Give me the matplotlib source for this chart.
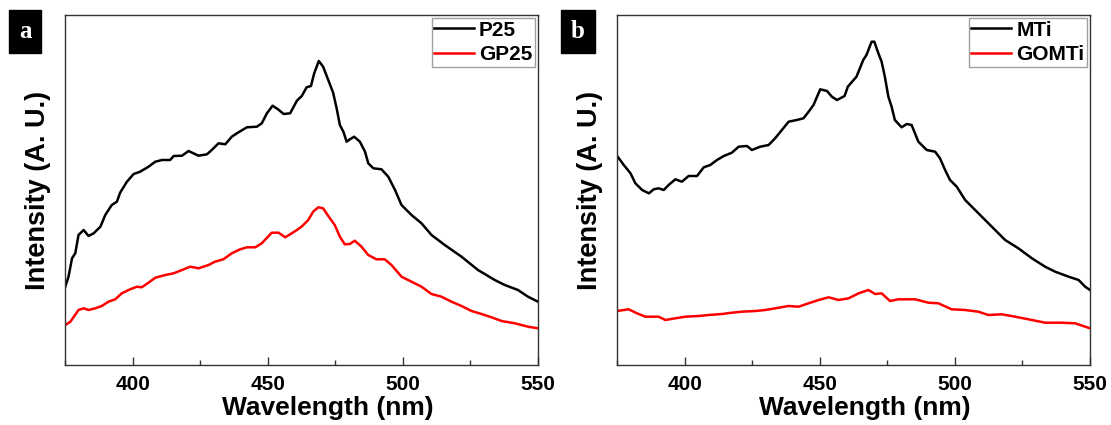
import numpy as np
import matplotlib
matplotlib.use('Agg')
import matplotlib.pyplot as plt
from matplotlib.ticker import MultipleLocator

plt.rcParams.update({
    'font.family': ['Liberation Sans', 'DejaVu Sans'],
    'font.weight': 'bold',
})

# panel a: P25 / GP25
wl_p25 = [375.1, 376.3, 377.6, 378.8, 380.0, 381.9, 383.7, 385.6, 388.1, 389.9, 392.3, 394.2,
          395.4, 397.9, 400.4, 402.8, 405.9, 408.4, 410.9, 413.9, 415.2, 418.3, 420.7, 424.4,
          427.5, 429.3, 431.8, 434.3, 436.7, 438.6, 442.3, 446.0, 447.8, 449.7, 451.8, 453.8,
          455.9, 458.3, 460.8, 462.6, 464.4, 466.0, 467.2, 468.9, 470.5, 472.4, 474.2, 475.5,
          476.7, 478.0, 479.2, 480.4, 482.0, 484.1, 486.0, 487.2, 489.1, 492.1, 494.6, 497.1,
          499.5, 503.2, 506.9, 510.6, 515.5, 521.7, 527.8, 534.0, 537.7, 542.6, 546.3, 550.0]
i_p25 = [78.3, 88.3, 106.7, 111.7, 130, 135, 129, 131.7, 138.3, 150, 160, 163.3,
         172.3, 183.3, 191, 193.3, 198.3, 203.3, 205, 205, 209, 209.3, 214, 209.3,
         210.7, 215, 221.7, 220.7, 228.3, 231.7, 237.7, 238.3, 241.7, 251.7, 259.3, 255.7,
         251, 251.7, 264.3, 269, 277.7, 279, 291.7, 304, 298.3, 285, 272.3, 256.7,
         240, 233.3, 223.3, 225.7, 228.3, 223.3, 213.3, 201.7, 196.7, 195.7, 188.3, 175,
         160, 150, 141.7, 130, 120, 108.3, 95, 85, 80, 75, 68.3, 63.3]

wl_gp25 = [375.1, 377.0, 380.0, 381.9, 383.7, 386.2, 388.6, 391.1, 393.6, 396.0, 399.1, 401.6,
           403.4, 405.9, 408.4, 412.1, 415.2, 418.3, 421.3, 424.4, 428.1, 430.5, 433.6, 436.7,
           439.8, 442.3, 445.4, 447.8, 451.5, 454.0, 456.5, 458.3, 460.8, 462.5, 465.0, 466.8,
           468.7, 470.5, 472.4, 474.8, 476.7, 478.5, 480.4, 482.2, 484.7, 487.2, 490.2, 493.3,
           495.8, 499.5, 503.2, 506.9, 510.6, 514.3, 518.0, 521.7, 525.4, 529.1, 532.8, 536.5,
           541.4, 546.3, 550.0]
i_gp25 = [40, 43.3, 55, 56.7, 55, 56.7, 59, 63.3, 65.7, 71.7, 75.7, 78.3,
          77.7, 82.3, 87.3, 90, 91.7, 95, 98.3, 96.7, 100, 103.3, 105.7, 111.7,
          115.7, 117.7, 117.7, 121.7, 132.3, 132.3, 127.7, 130.7, 135, 138.3, 145, 153.3,
          157.7, 156.7, 149, 140, 128.3, 120.7, 121, 124.3, 118.3, 110, 105.7, 105.7,
          100, 88.3, 83.3, 78.3, 71, 68.3, 63.3, 59, 54, 51, 47.7, 44,
          41.7, 38.3, 36.7]

# panel b: MTi / GOMTi
wl_mti = [375.0, 377.5, 380.0, 381.8, 384.3, 386.8, 388.6, 390.4, 392.3, 394.1, 396.6, 399.0,
          401.5, 404.6, 407.1, 409.5, 412.0, 414.5, 417.5, 420.0, 423.1, 424.9, 428.0, 431.1,
          433.5, 436.0, 438.5, 441.5, 444.0, 445.9, 447.7, 450.2, 452.7, 454.5, 456.4, 459.2,
          460.4, 463.6, 466.1, 467.3, 469.2, 470.2, 471.7, 472.9, 474.1, 475.4, 476.6, 477.8,
          480.3, 482.2, 484.0, 486.5, 489.6, 492.7, 494.5, 496.4, 498.2, 500.7, 503.8, 507.5,
          511.2, 514.9, 518.6, 523.5, 528.5, 533.4, 537.1, 542.1, 545.8, 548.2, 550.0]
i_mti = [209.3, 200, 191.7, 181.7, 175, 171.7, 175.7, 176.7, 175, 180, 185.7, 183.3,
         189, 189, 197.7, 200, 205, 209, 212.3, 218.3, 219, 215, 218.3, 220,
         226.7, 235, 243.3, 245, 246.7, 253.3, 260, 275.7, 274, 268.3, 265, 269,
         278.3, 288.3, 305, 310, 323.3, 323.3, 311.7, 303.3, 288.3, 268.3, 258.3, 245,
         237.7, 241, 240, 223.3, 215, 213.3, 206.7, 195, 185, 178.3, 165, 155,
         145, 135, 125, 116.7, 106.7, 98.3, 93.3, 88.3, 85, 78.3, 75]

wl_gomti = [375.0, 379.3, 382.4, 385.5, 390.4, 392.9, 396.6, 400.3, 405.2, 408.9, 413.8, 417.5,
            421.2, 426.2, 429.9, 433.5, 438.5, 442.2, 445.9, 449.6, 453.3, 457.0, 460.7, 464.4,
            468.0, 470.5, 472.9, 476.0, 479.1, 485.3, 490.2, 493.9, 498.8, 503.8, 508.7, 512.4,
            517.3, 522.3, 527.2, 533.4, 539.5, 544.5, 550.0]
i_gomti = [54, 55.7, 51.7, 48.3, 48.3, 45, 46.7, 48.3, 49, 50, 51, 52.3,
           53.3, 54, 55, 56.7, 59, 58.3, 61.7, 65, 67.7, 65, 66.7, 71.7,
           75, 71, 71.7, 64, 65.7, 65.7, 62.3, 61.7, 55.7, 55, 53.3, 50,
           50.7, 48.3, 45.7, 42.3, 42.3, 41.7, 36.7]

panels = [
    ('a', (wl_p25, i_p25, 'P25'), (wl_gp25, i_gp25, 'GP25')),
    ('b', (wl_mti, i_mti, 'MTi'), (wl_gomti, i_gomti, 'GOMTi')),
]

fig = plt.figure(figsize=(11.11, 4.25), dpi=100)
lefts = [65 / 1111, 617 / 1111]
xlab_x = [0.555, 0.523]
tag_x = [25 / 1111, 578 / 1111]
for k, (tag, s1, s2) in enumerate(panels):
    ax = fig.add_axes([lefts[k], 60 / 425, 473 / 1111, 350 / 425])
    ax.plot(s1[0], s1[1], color='black', lw=1.8, label=s1[2])
    ax.plot(s2[0], s2[1], color='#ff0000', lw=1.8, label=s2[2])
    ax.set_xlim(375, 550)
    ax.set_ylim(0, 350)
    ax.set_yticks([])
    ax.xaxis.set_major_locator(MultipleLocator(50))
    ax.xaxis.set_minor_locator(MultipleLocator(25))
    ax.tick_params(axis='x', which='major', direction='in', length=6, width=1,
                   labelsize=15, pad=7, color='#333333')
    ax.tick_params(axis='x', which='minor', direction='in', length=3.5, width=1, color='#333333')
    for sp in ax.spines.values():
        sp.set_color('#333333')
        sp.set_linewidth(1.0)
    for lab in ax.get_xticklabels():
        lab.set_fontweight('bold')
    ax.set_xlabel('Wavelength (nm)', fontsize=19, fontweight='bold')
    ax.xaxis.set_label_coords(xlab_x[k], -0.088)
    ax.xaxis.label.set_va('top')
    ax.set_ylabel('Intensity (A. U.)', fontsize=19.5, fontweight='bold', labelpad=10)
    leg = ax.legend(loc='upper right', fontsize=15, frameon=True, fancybox=False,
                    handlelength=1.9, handletextpad=0.25, borderpad=0.12,
                    labelspacing=0.28, borderaxespad=0.15)
    leg.get_frame().set_edgecolor('#888888')
    leg.get_frame().set_linewidth(1.0)
    for t in leg.get_texts():
        t.set_fontweight('bold')
    fig.text(tag_x[k], 1 - 31 / 425, tag, ha='center', va='center', color='white',
             fontsize=18, fontweight='bold', family=['Liberation Serif', 'DejaVu Serif'],
             bbox=dict(boxstyle='square,pad=0.4', facecolor='black', edgecolor='black'))

fig.savefig('out.png', dpi=100, facecolor='white')
